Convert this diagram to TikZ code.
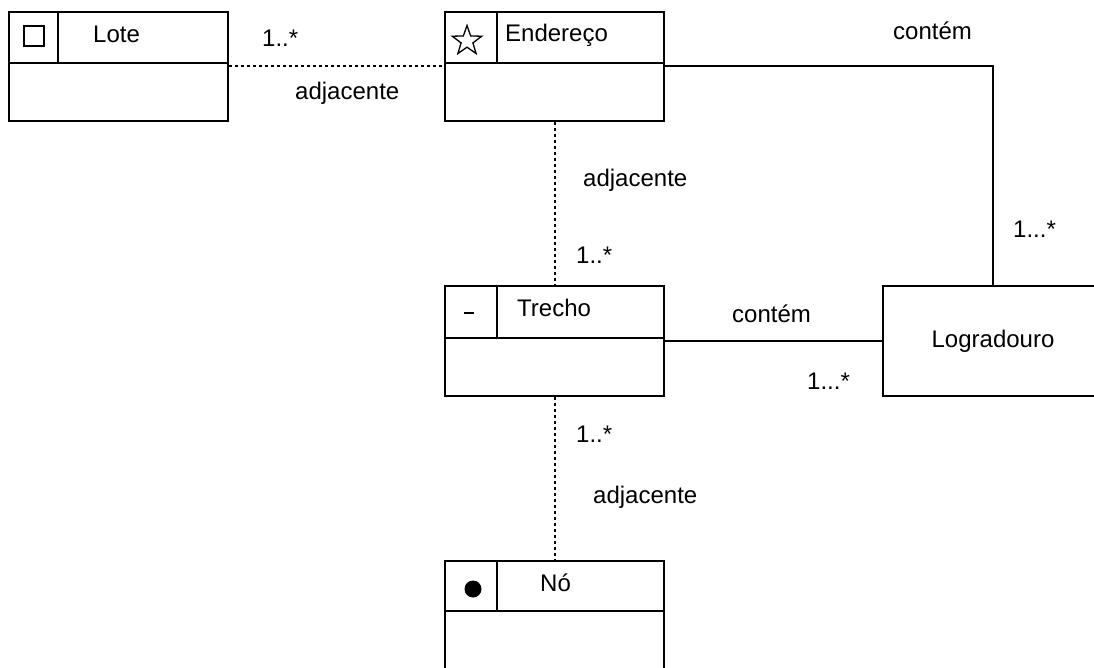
\documentclass[tikz,border=0pt]{standalone}
\usepackage{fontspec}
\setmainfont{Liberation Sans}
\usetikzlibrary{shapes.geometric}
\begin{document}
\begin{tikzpicture}[x=1pt,y=-1pt,
  classbox/.style={draw, rectangle, line width=2pt, minimum width=219pt, inner sep=0pt},
  lbl/.style={anchor=base west, inner sep=0pt, font=\fontsize{24}{28}\selectfont},
  assocline/.style={line width=2pt},
  adjline/.style={line width=2pt, dash pattern=on 3pt off 3pt},
  sep/.style={line width=2pt}]
\useasboundingbox (0,0) rectangle (1094,668);

% class boxes
\node[classbox, minimum height=109pt] (lote)   at (118.5,66.5) {};
\node[classbox, minimum height=109pt] (ender)  at (554.5,66.5) {};
\node[classbox, minimum height=110pt] (trecho) at (554.5,341)  {};
\node[classbox, minimum height=109pt] (no)     at (554.5,615.5) {};
\node[classbox, minimum height=110pt, minimum width=220pt] (logr) at (993,341) {};

% header rows and icon cells
\draw[sep] ([yshift=-52pt]lote.north west) -- ([yshift=-52pt]lote.north east);
\draw[sep] ([xshift=50pt]lote.north west) -- ([xshift=50pt,yshift=-52pt]lote.north west);
\draw[sep] ([yshift=-52pt]ender.north west) -- ([yshift=-52pt]ender.north east);
\draw[sep] ([xshift=53pt]ender.north west) -- ([xshift=53pt,yshift=-52pt]ender.north west);
\draw[sep] ([yshift=-53pt]trecho.north west) -- ([yshift=-53pt]trecho.north east);
\draw[sep] ([xshift=53pt]trecho.north west) -- ([xshift=53pt,yshift=-53pt]trecho.north west);
\draw[sep] ([yshift=-51pt]no.north west) -- ([yshift=-51pt]no.north east);
\draw[sep] ([xshift=53pt]no.north west) -- ([xshift=53pt,yshift=-51pt]no.north west);

% icons
\node[draw, line width=2pt, minimum size=20pt, inner sep=0pt] (quadrado) at (33.5,36) {};
\node[star, star points=5, star point ratio=2.5, draw, line width=1.3pt, minimum size=31pt, inner sep=0pt] (estrela) at (467,41) {};
\node[fill, rectangle, minimum width=10pt, minimum height=2pt, inner sep=0pt] (traco) at (469,313) {};
\node[fill, circle, minimum size=17pt, inner sep=0pt] (ponto) at (473,589) {};

% class names
\node[lbl] (tlote)  at (93,43)   {Lote};
\node[lbl] (tender) at (505,42)  {Endereço};
\node[lbl] (ttrech) at (517,316) {Trecho};
\node[lbl] (tno)    at (540,591) {Nó};
\node[lbl, anchor=base] (tlogr) at (993,347) {Logradouro};

% associations
\draw[adjline] (lote.east) -- (ender.west);
\draw[adjline] (ender.south) -- (trecho.north);
\draw[adjline] (trecho.south) -- (no.north);
\draw[assocline] (ender.east) -| (logr.north);
\draw[assocline] (trecho.east) -- (logr.west);

% association labels
\node[lbl] (m1) at (262,47)   {1..*};
\node[lbl] (a1) at (295,100)  {adjacente};
\node[lbl] (a2) at (583,187)  {adjacente};
\node[lbl] (m2) at (576,263)  {1..*};
\node[lbl] (m3) at (576,442)  {1..*};
\node[lbl] (a3) at (593,503)  {adjacente};
\node[lbl] (c1) at (893,40)   {contém};
\node[lbl] (m4) at (1013,238) {1...*};
\node[lbl] (c2) at (732,322)  {contém};
\node[lbl] (m5) at (807,389)  {1...*};
\end{tikzpicture}
\end{document}
